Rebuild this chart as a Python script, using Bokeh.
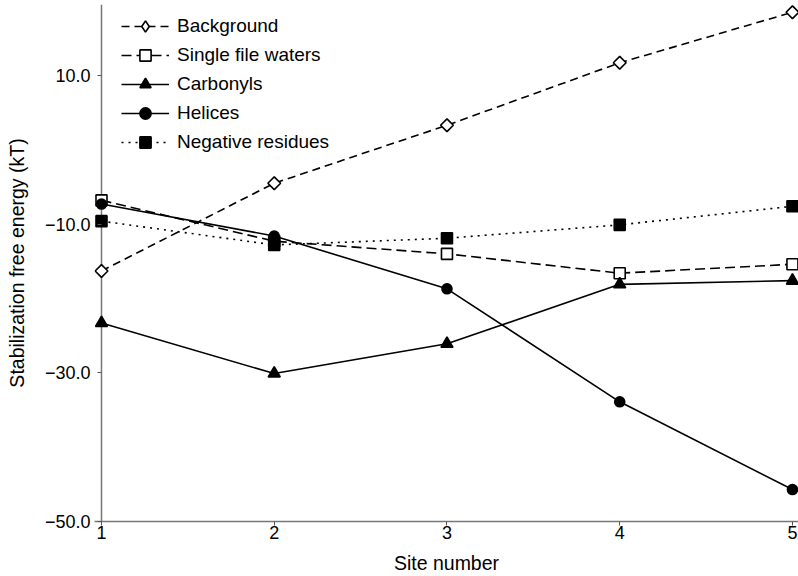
import math
from bokeh.plotting import figure
from bokeh.models import Range1d, FixedTicker, Legend, LegendItem, Span
from bokeh.embed import file_html
from bokeh.resources import INLINE

sites = [1, 2, 3, 4, 5]
background = [-16.3, -4.5, 3.3, 11.7, 18.5]
single_file_waters = [-6.8, -12.3, -14.0, -16.6, -15.4]
carbonyls = [-23.3, -30.1, -26.1, -18.1, -17.6]
helices = [-7.3, -11.6, -18.7, -33.9, -45.7]
negative_residues = [-9.6, -12.8, -11.9, -10.1, -7.6]

y_ticks = [10, -10, -30, -50]
y_tick_labels = ["10.0", "\u221210.0", "\u221230.0", "\u221250.0"]
x_ticks = [1, 2, 3, 4, 5]

FONT = "Liberation Sans"
AXIS_COLOR = "#777777"

p = figure(width=798, height=576, output_backend="svg", toolbar_location=None,
           x_range=Range1d(0.9595, 5.035), y_range=Range1d(-50, 19.54),
           min_border_left=94, min_border_right=0, min_border_top=4, min_border_bottom=53)
p.outline_line_color = None
p.grid.visible = False
# off-screen range used only for legend-only glyphs
p.extra_y_ranges = {"legend_only": Range1d(1000, 2000)}

for ax in (p.xaxis[0], p.yaxis[0]):
    ax.axis_line_color = AXIS_COLOR
    ax.axis_line_width = 1.5
    ax.major_tick_line_color = "#555555"
    ax.major_tick_out = 4
    ax.major_tick_in = 0
    ax.minor_tick_line_color = None
    ax.major_label_text_font = FONT
    ax.major_label_text_font_size = "18px"
    ax.major_label_text_color = "black"
    ax.axis_label_text_font = FONT
    ax.axis_label_text_font_size = "19.5px"
    ax.axis_label_text_font_style = "normal"
    ax.axis_label_text_color = "black"

p.xaxis.ticker = FixedTicker(ticks=x_ticks)
p.xaxis.axis_label = "Site number"
p.xaxis.major_label_standoff = 0
p.xaxis.axis_label_standoff = 10

# y axis: the frame starts a little left of site 1 so the markers there are not
# clipped; the axis line itself is drawn at site 1 and the ticks end on it.
p.yaxis.ticker = FixedTicker(ticks=y_ticks)
p.yaxis.major_label_overrides = dict(zip(y_ticks, y_tick_labels))
p.yaxis.axis_label = "Stabilization free energy (kT)"
p.yaxis.axis_line_color = None
p.yaxis.major_tick_out = -3
p.yaxis.major_tick_in = 7
p.yaxis.major_label_standoff = 4
p.yaxis.axis_label_standoff = 14
p.add_layout(Span(location=sites[0], dimension="height", line_color=AXIS_COLOR,
                  line_width=1.5, level="underlay"))

series = [
    ("Background", background, "8 5", "square", "white", 9, math.pi / 4, "diamond"),
    ("Single file waters", single_file_waters, "10 5", "square", "white", 11, 0, None),
    ("Carbonyls", carbonyls, "solid", "triangle", "black", 12, 0, None),
    ("Helices", helices, "solid", "circle", "black", 10, 0, None),
    ("Negative residues", negative_residues, "2 5", "square", "black", 11, 0, None),
]

line_rs = []
for name, ys, dash, marker, fill, size, ang, lm in series:
    lr = p.line(sites, ys, line_color="black", line_width=1.6, line_dash=dash)
    line_rs.append(lr)

items = []
for (name, ys, dash, marker, fill, size, ang, lm), lr in zip(series, line_rs):
    mr = p.scatter(sites, ys, marker=marker, size=size, angle=ang, fill_color=fill,
                   line_color="black", line_width=1.6)
    legend_rs = [lr, mr]
    if lm is not None:
        # legends do not draw marker angles: use a legend-only diamond glyph,
        # mapped to an off-screen range so it never appears in the plot area
        dummy = p.scatter(sites, ys, marker=lm, size=size, fill_color=fill,
                          line_color="black", line_width=1.6,
                          y_range_name="legend_only")
        legend_rs = [lr, dummy]
    items.append(LegendItem(label=name, renderers=legend_rs))

legend = Legend(items=items, location=(27, 365))
legend.border_line_color = None
legend.background_fill_alpha = 0
legend.label_text_font = FONT
legend.label_text_font_size = "19px"
legend.label_text_color = "black"
legend.glyph_width = 48
legend.glyph_height = 28
legend.label_height = 28
legend.spacing = 1
legend.padding = 5
legend.margin = 0
legend.label_standoff = 8
p.add_layout(legend)

open("out.html", "w").write(file_html(p, INLINE))
